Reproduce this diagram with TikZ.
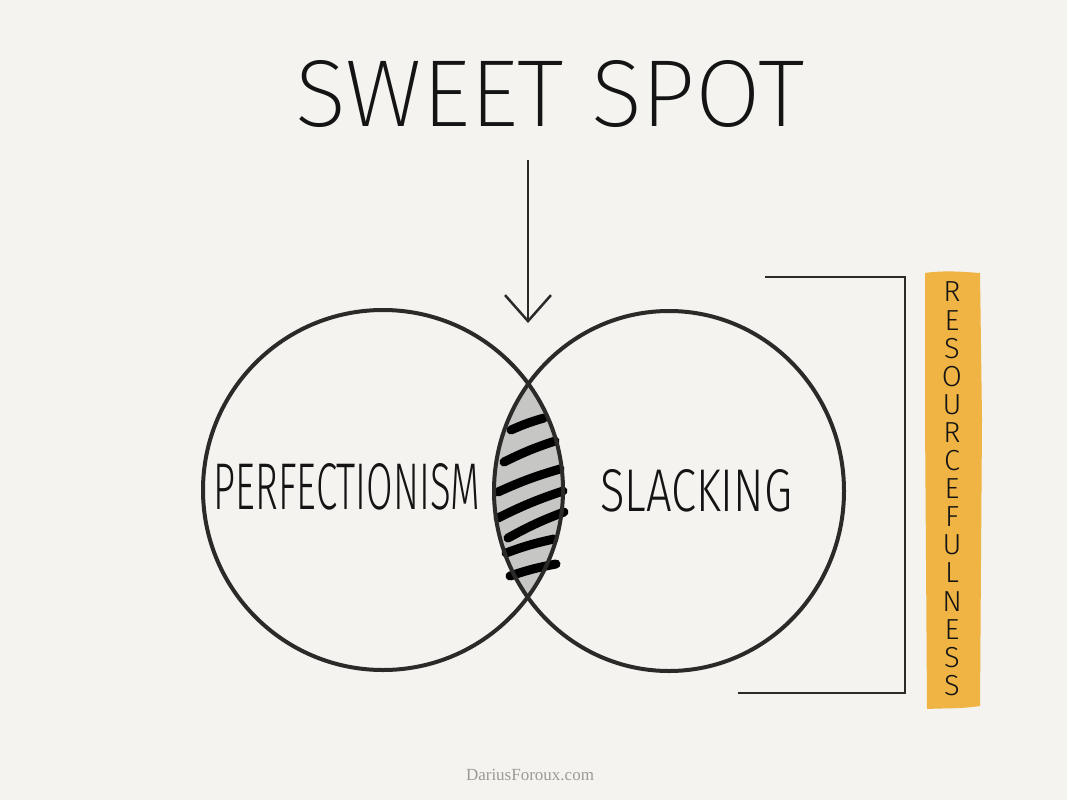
\documentclass[tikz,border=0pt]{standalone}
\usepackage{fontspec}
\setmainfont{Liberation Sans}
\IfFontExistsTF{Fira Sans Light}{\newfontfamily\hand{Fira Sans Light}}{\newfontfamily\hand{Liberation Sans}}
\IfFontExistsTF{Fira Sans ExtraLight}{\newfontfamily\handthin{Fira Sans ExtraLight}}{%
  \IfFontExistsTF{Fira Sans Extra Light}{\newfontfamily\handthin{Fira Sans Extra Light}}{%
    \IfFontExistsTF{Fira Sans Thin}{\newfontfamily\handthin{Fira Sans Thin}}{\newfontfamily\handthin{Fira Sans Light}}}}
\newfontfamily\wmfont{Liberation Serif}
\usetikzlibrary{arrows.meta,shapes.geometric}
\definecolor{bg}{HTML}{F4F3EF}
\definecolor{ink}{HTML}{2B2A28}
\definecolor{txt}{HTML}{141414}
\definecolor{lensfill}{HTML}{C6C6C4}
\definecolor{hl}{HTML}{EFB443}
\definecolor{wmgray}{HTML}{9A9A98}
\begin{document}
\begin{tikzpicture}[x=1pt,y=-1pt,
  ring/.style={ellipse, draw=ink, line width=4pt, inner sep=0pt},
  hatch/.style={line width=9pt, line cap=round, draw=black},
  thinline/.style={line width=2.5pt, draw=ink},
  handtext/.style={inner sep=0pt, text=txt, font=\hand},
  letter/.style={inner sep=0pt, text=txt, font=\hand\fontsize{29}{29}\selectfont}
]
\fill[bg] (0,0) rectangle (1067,800);
\useasboundingbox (0,0) rectangle (1067,800);

% lens fill
\begin{scope}
  \clip (383,490) ellipse[x radius=180pt, y radius=180pt];
  \fill[lensfill] (669,491) ellipse[x radius=175pt, y radius=180pt];
\end{scope}

% hatch strokes
\draw[hatch] (511,430) to[bend left=4] (544,418);
\draw[hatch] (504,462) to[bend left=4] (555,441);
\draw[hatch] (498,492) to[bend left=4] (560,469);
\draw[hatch] (498,518) to[bend left=4] (563,491);
\draw[hatch] (508,538) to[bend left=4] (564,512);
\draw[hatch] (506,553) to[bend left=4] (554,539);
\draw[hatch] (510,576) to[bend left=4] (556,564);

% circles
\node[ring, minimum width=360pt, minimum height=360pt] (left) at (383,490) {};
\node[ring, minimum width=350pt, minimum height=360pt] (right) at (669,491) {};

% title
\node[inner sep=0pt, text=txt, font=\handthin] (title) at (550,94) {\resizebox{508pt}{66pt}{SWEET SPOT}};

% arrow
\coordinate (arrstart) at (528,160);
\coordinate (arrend) at (528,323);
\draw[thinline, -{Straight Barb[length=26pt,width=46pt,line width=2.5pt]}] (arrstart) -- (arrend);

% circle labels
\node[handtext] (perf) at (347,487) {\resizebox{266pt}{46pt}{PERFECTIONISM}};
\node[handtext] (slack) at (696,491) {\resizebox{192pt}{42pt}{SLACKING}};

% bracket
\coordinate (bt) at (765,277);
\coordinate (btr) at (905,277);
\coordinate (bbr) at (905,693);
\coordinate (bb) at (738,693);
\draw[thinline, line join=miter] (bt) -- (btr) -- (bbr) -- (bb);

% highlighted vertical word
\fill[hl] (925,273) .. controls (945,270) and (965,272) .. (980,273)
  -- (982,420) -- (981,560) -- (980,706)
  .. controls (960,709) and (945,708) .. (927,709)
  -- (926,560) -- (925,420) -- cycle;
\foreach \ch [count=\i from 0] in {R,E,S,O,U,R,C,E,F,U,L,N,E,S,S}{
  \node[letter] (rl\i) at (952,292+28.1*\i) {\ch};
}

% watermark
\node[inner sep=0pt, text=wmgray, font=\wmfont\fontsize{17}{17}\selectfont] (wm) at (530,775) {DariusForoux.com};
\end{tikzpicture}
\end{document}
